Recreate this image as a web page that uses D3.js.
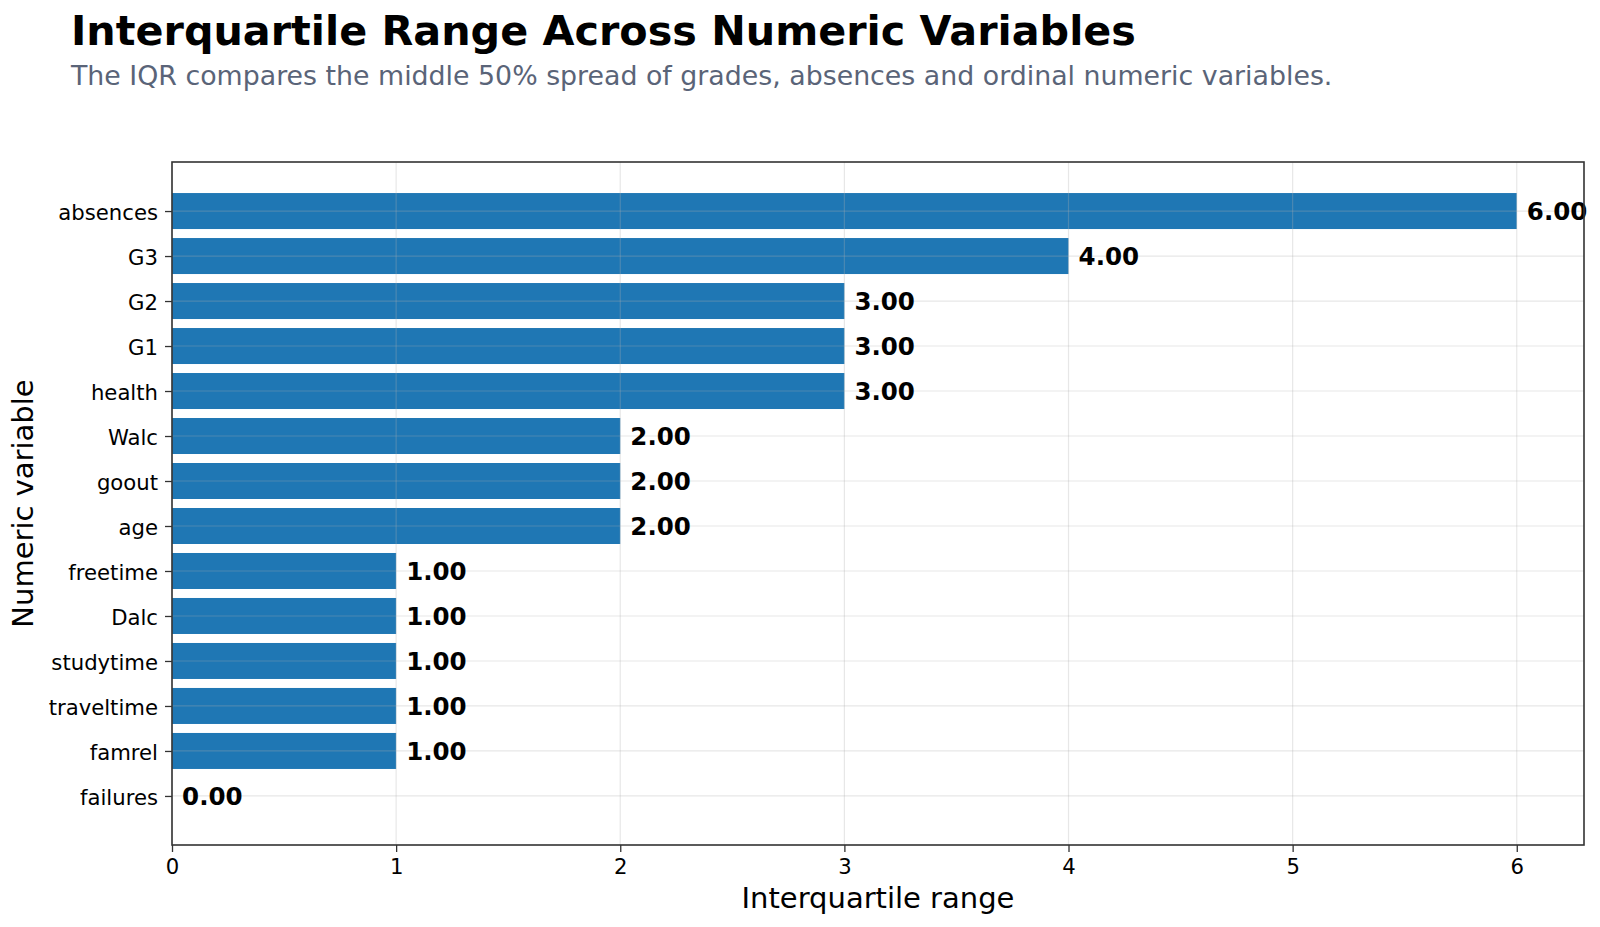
<!DOCTYPE html>
<html lang="en">
<head>
  <meta charset="UTF-8">
  <title>Interquartile Range Across Numeric Variables</title>
  <script src="https://d3js.org/d3.v7.min.js"></script>
  <style>
    body { margin: 0; background: #fff; }
    svg { font-family: "DejaVu Sans", sans-serif; display: block; }
    .tick text { fill: #000; }
  </style>
</head>
<body>
  <svg id="chart" width="1600" height="927"></svg>

  <script>
    // Data (top to bottom as drawn)
    const variables = ["absences", "G3", "G2", "G1", "health", "Walc", "goout", "age",
                       "freetime", "Dalc", "studytime", "traveltime", "famrel", "failures"];
    const iqrValues = [6, 4, 3, 3, 3, 2, 2, 2, 1, 1, 1, 1, 1, 0];
    const xTicks = [0, 1, 2, 3, 4, 5, 6];

    const svg = d3.select("#chart");
    const plot = { left: 172, right: 1584, top: 162, bottom: 845 };

    // x: 0 .. max * 1.05
    const x = d3.scaleLinear()
      .domain([0, d3.max(iqrValues) * 1.05])
      .range([plot.left, plot.right]);

    // y: index positions with matplotlib-style 5% margins around the bars
    const n = variables.length;
    const barH = 0.8;
    const pad = 0.05 * (n - 1 + barH);
    const y = d3.scaleLinear()
      .domain([-barH / 2 - pad, n - 1 + barH / 2 + pad])
      .range([plot.top, plot.bottom]);

    const rows = variables.map((name, i) => ({ name, i, value: iqrValues[i] }));

    // bars
    svg.append("g")
      .selectAll("rect")
      .data(rows)
      .join("rect")
      .attr("x", x(0))
      .attr("y", d => y(d.i - barH / 2))
      .attr("width", d => x(d.value) - x(0))
      .attr("height", d => y(d.i + barH / 2) - y(d.i - barH / 2))
      .attr("fill", "#1f77b4");

    // grid on top of bars
    const grid = svg.append("g").attr("stroke", "#b0b0b0").attr("stroke-opacity", 0.3).attr("stroke-width", 1.2);
    grid.selectAll(".gx")
      .data(xTicks)
      .join("line")
      .attr("x1", d => x(d)).attr("x2", d => x(d))
      .attr("y1", plot.top).attr("y2", plot.bottom);
    grid.selectAll(".gy")
      .data(rows)
      .join("line")
      .attr("x1", plot.left).attr("x2", plot.right)
      .attr("y1", d => y(d.i)).attr("y2", d => y(d.i));

    // value labels
    svg.append("g")
      .selectAll("text")
      .data(rows)
      .join("text")
      .attr("x", d => x(d.value + 0.045))
      .attr("y", d => y(d.i))
      .attr("dy", "0.36em")
      .attr("font-size", 24.5)
      .attr("font-weight", "bold")
      .attr("fill", "#000")
      .text(d => d.value.toFixed(2));

    // axes
    const xAxis = svg.append("g")
      .attr("transform", `translate(0,${plot.bottom})`)
      .call(d3.axisBottom(x).tickValues(xTicks).tickFormat(d3.format("d")).tickSize(7).tickPadding(7));
    const yAxis = svg.append("g")
      .attr("transform", `translate(${plot.left},0)`)
      .call(d3.axisLeft(y).tickValues(d3.range(n)).tickFormat(i => variables[i]).tickSize(7).tickPadding(7));
    [xAxis, yAxis].forEach(a => {
      a.select(".domain").remove();
      a.selectAll(".tick line").attr("stroke", "#333").attr("stroke-width", 1.3);
      a.selectAll(".tick text").attr("font-size", 21.2).attr("font-family", "DejaVu Sans");
    });
    yAxis.selectAll(".tick text").attr("dy", "0.38em");

    // frame
    svg.append("rect")
      .attr("x", plot.left).attr("y", plot.top)
      .attr("width", plot.right - plot.left).attr("height", plot.bottom - plot.top)
      .attr("fill", "none").attr("stroke", "#333").attr("stroke-width", 1.6);

    // axis labels
    svg.append("text")
      .attr("x", (plot.left + plot.right) / 2).attr("y", 908)
      .attr("text-anchor", "middle").attr("font-size", 29).attr("fill", "#000")
      .text("Interquartile range");
    svg.append("text")
      .attr("transform", `translate(33,${(plot.top + plot.bottom) / 2}) rotate(-90)`)
      .attr("text-anchor", "middle").attr("font-size", 29).attr("fill", "#000")
      .text("Numeric variable");

    // title and subtitle
    svg.append("text")
      .attr("x", 71).attr("y", 45)
      .attr("font-size", 41.3).attr("font-weight", "bold").attr("fill", "#000")
      .text("Interquartile Range Across Numeric Variables");
    svg.append("text")
      .attr("x", 71).attr("y", 85)
      .attr("font-size", 26.8).attr("fill", "#5a6478")
      .text("The IQR compares the middle 50% spread of grades, absences and ordinal numeric variables.");
  </script>
</body>
</html>
